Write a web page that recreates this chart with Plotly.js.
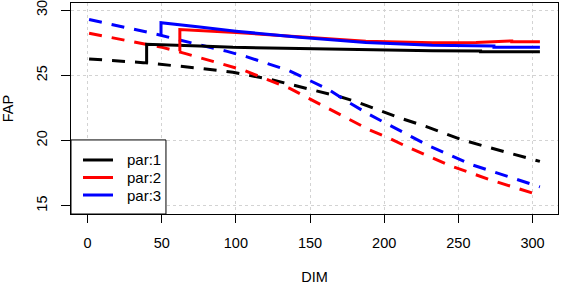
<!DOCTYPE html>
<html>
<head>
<meta charset="utf-8">
<script src="https://cdn.plot.ly/plotly-3.0.1.min.js"></script>
<style>html,body{margin:0;padding:0;background:#fff;}#chart{width:561px;height:285px;}</style>
</head>
<body>
<div id="chart"></div>
<script>
// Solid (legend) series
const blackSolidX = [39.8, 39.8, 75.6, 98, 142.8, 187.6, 232.4, 265, 265, 305];
const blackSolidY = [25.9, 27.37, 27.25, 27.14, 27.06, 26.95, 26.89, 26.87, 26.8, 26.8];
const redSolidX = [62.2, 62.2, 100, 142.8, 187.6, 232.4, 262, 286, 286, 305];
const redSolidY = [26.85, 28.5, 28.28, 27.92, 27.6, 27.5, 27.52, 27.63, 27.57, 27.57];
const blueSolidX = [49.5, 49.5, 75.6, 100, 142.8, 187.6, 232.4, 274, 274, 305];
const blueSolidY = [28.05, 29.03, 28.7, 28.38, 27.91, 27.52, 27.3, 27.25, 27.14, 27.14];

// Dashed series
const blackDashX = [1, 37.5, 75.6, 98, 122.6, 151.6, 169.7, 180.9, 198.8, 208.8, 228, 252.5, 268, 286, 305];
const blackDashY = [26.25, 25.97, 25.54, 25.23, 24.7, 23.88, 23.37, 22.99, 22.22, 21.8, 21.08, 20.06, 19.55, 19.0, 18.4];
const redDashX = [1, 51, 66.7, 75.6, 104.7, 136, 162.7, 189.8, 203.3, 216.7, 245.7, 272.5, 305];
const redDashY = [28.22, 27.12, 26.64, 26.35, 25.41, 24.01, 22.43, 20.83, 20.19, 19.45, 18.02, 16.95, 15.8];
const blueDashX = [1, 46.5, 62, 75.6, 93.5, 107, 136, 162.7, 176.4, 189.8, 207.8, 230, 259, 305];
const blueDashY = [29.27, 28.15, 27.7, 27.35, 26.85, 26.43, 25.35, 23.9, 22.9, 22.0, 20.95, 19.6, 18.15, 16.45];

const names = ["par:1", "par:2", "par:3"];
const colors = ["#000000", "#ff0000", "#0000ff"];
const xTicks = [0, 50, 100, 150, 200, 250, 300];
const yTicks = [15, 20, 25, 30];

const dash = "13px,10px";
const traces = [
  {x: blackDashX, y: blackDashY, mode: "lines", line: {color: colors[0], width: 3, dash: dash}},
  {x: redDashX, y: redDashY, mode: "lines", line: {color: colors[1], width: 3, dash: dash}},
  {x: blueDashX, y: blueDashY, mode: "lines", line: {color: colors[2], width: 3, dash: dash}},
  {x: blackSolidX, y: blackSolidY, mode: "lines", name: names[0], line: {color: colors[0], width: 3}},
  {x: redSolidX, y: redSolidY, mode: "lines", name: names[1], line: {color: colors[1], width: 3}},
  {x: blueSolidX, y: blueSolidY, mode: "lines", name: names[2], line: {color: colors[2], width: 3}}
];

const ff = "Liberation Sans, Arial, sans-serif";
const font = {family: ff, size: 14.5, color: "#000"};

// legend box drawn in paper coords (plot area 487 x 211 px)
const shapes = [{type: "rect", xref: "paper", yref: "paper", x0: 0, x1: 0.195, y0: 0, y1: 0.351,
  line: {color: "#000", width: 1}, fillcolor: "#fff", layer: "above"}];
const annotations = [];
const rowY = [0.256, 0.173, 0.090];
names.forEach((n, i) => {
  shapes.push({type: "line", xref: "paper", yref: "paper", x0: 0.0246, x1: 0.0862, y0: rowY[i], y1: rowY[i],
    line: {color: colors[i], width: 3}, layer: "above"});
  annotations.push({xref: "paper", yref: "paper", x: 0.111, y: rowY[i], xanchor: "left", yanchor: "middle",
    text: n, showarrow: false, font: {family: ff, size: 15, color: "#000"}});
});

const layout = {
  width: 561, height: 285,
  margin: {l: 71, r: 3, t: 3, b: 71},
  paper_bgcolor: "#fff", plot_bgcolor: "#fff",
  font: font,
  showlegend: false,
  shapes: shapes,
  annotations: annotations,
  xaxis: {
    range: [-11.2, 317.2], tickvals: xTicks, ticktext: xTicks.map(String),
    ticks: "outside", ticklen: 8, tickcolor: "#000", tickwidth: 1, ticklabelstandoff: 8,
    ticklabeloverflow: "allow",
    showline: true, mirror: true, linecolor: "#000", linewidth: 1,
    showgrid: true, gridcolor: "#d3d3d3", griddash: "dot", gridwidth: 1,
    zeroline: false, tickfont: font,
    title: {text: "DIM", font: font, standoff: 28}
  },
  yaxis: {
    range: [14.37, 30.54], tickvals: yTicks, ticktext: yTicks.map(String),
    ticks: "outside", ticklen: 9, tickcolor: "#000", tickwidth: 1, tickangle: -90, ticklabelstandoff: 8,
    ticklabeloverflow: "allow",
    showline: true, mirror: true, linecolor: "#000", linewidth: 1,
    showgrid: true, gridcolor: "#d3d3d3", griddash: "dot", gridwidth: 1,
    zeroline: false, tickfont: font,
    title: {text: "FAP", font: font, standoff: 18}
  }
};
Plotly.newPlot("chart", traces, layout, {displayModeBar: false, staticPlot: true});
</script>
</body>
</html>
